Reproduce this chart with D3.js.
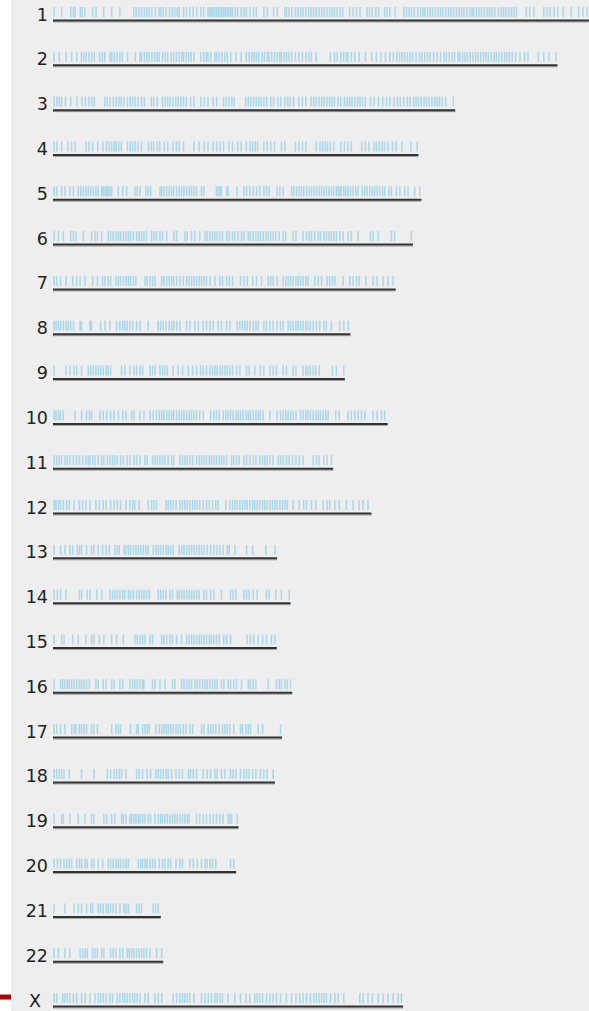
<!DOCTYPE html>
<html>
<head>
<meta charset="utf-8">
<script src="https://cdn.jsdelivr.net/npm/d3@7"></script>
<style>
  html, body { margin: 0; padding: 0; background: #ffffff; }
  svg { display: block; }
</style>
</head>
<body>
<svg id="chart" width="589" height="1011"></svg>
<script>
// Chromosome names and drawn extent (Mb)
const chromosomes = ["1","2","3","4","5","6","7","8","9","10","11","12","13","14","15","16","17","18","19","20","21","22","X"];
const lengthsMb = [249, 233, 185.8, 168.8, 170.2, 166.3, 158.3, 137.4, 134.8, 154.6, 129.4, 147.1, 103.5, 109.7, 103.4, 110.5, 105.8, 102.5, 85.7, 84.6, 49.8, 50.9, 161.7];

// Feature positions along each chromosome (Mb)
const chr1 = [0.5,4,8.2,9.4,10.2,12.6,13.4,14.7,18.3,19.9,23.4,27.1,30.9,37.3,38.4,39.6,40.9,42.2,43.3,44.4,45.7,47.3,49,49.8,50.9,52.2,53.8,55.1,56.2,57.4,58.3,60.3,61.6,63.2,64.8,66.4,68.3,69.6,71.6,72.4,73.2,74,74.8,75.6,76.4,77.2,78,78.8,79.6,80.5,81.3,82.1,82.9,84.2,85.3,86.9,88.2,89.3,91,92.6,93.9,97.4,99,101.9,103.6,107.1,107.9,109,110.3,112,113.2,114.4,115.5,116.8,118.1,119.2,120.4,121.6,122.9,124.1,125.2,126.5,127.8,128.9,130,131.3,132.6,133.8,137,138.6,140.2,141.8,145.1,146.2,147.5,149.1,150.4,153.2,154.3,155.6,158,162,163.3,164.5,165.6,166.9,168.5,169.8,170.9,171.7,173,174.2,175.3,176.6,177.9,179,180.1,181.4,182.7,183.8,185,186.3,187.6,188.7,189.8,191.1,192.4,193.5,194.3,195.6,196.8,197.9,199.2,200.5,201.6,202.7,204,205.7,207,208.1,209.2,210.5,211.8,212.9,214.1,218.6,220.2,222.1,226.7,228.3,229.6,231.5,233.1,235.6,239.3,242.8,244.8,246.7];
const chr2 = [0.5,2.9,6.1,8.6,11,13.1,14.2,15.3,16.6,17.9,19.1,21.5,22.8,23.9,26.3,27.1,28.3,29.6,30.9,32,34.4,38,40.1,40.9,42.2,43.3,44.4,45.7,47,48.1,49,50.6,51.9,53,54.6,55.7,57,58.3,59.5,60.3,61.6,62.7,63.8,65.1,68.3,69.6,70.8,71.6,72.9,74.8,75.6,76.7,78,79.3,80.5,82.1,84.5,86.9,89.3,90.6,91.8,92.9,93.9,95,96.6,97.7,99,99.8,101,102.3,103.6,104.7,105.5,106.8,107.9,109,110.3,112,113.6,115.2,116.8,118.1,119.2,121.6,128.1,130,131.3,132.9,134.2,135.4,136.2,137.8,139.4,141.4,144.3,147.2,149.4,151.5,153.6,155.6,157.2,158.8,160.1,161.2,162.4,163.7,164.9,166.1,167.7,169.3,170.4,171.7,173,174.2,175.8,177.4,179,180.6,181.7,183,184.3,185.5,187.1,187.9,189.2,190.3,191.4,192.7,194,195.2,196.3,197.6,198.9,200,201.1,202.4,203.7,204.8,206,207.3,208.6,209.7,210.8,212.1,213.7,215.7,217.8,219.4,224.2,226.7,229.1,232.3];
const chr3 = [0.5,1.8,2.9,4,5.7,8.2,11,13.4,15,16.6,17.9,19.1,23.9,25,26.3,27.9,29.2,30.4,31.5,32.8,34.4,35.7,36.8,37.9,39.3,40.9,42.2,45.4,46.5,48.1,50.6,51.9,53,54.1,55.4,56.7,57.8,59,60.3,61.6,63.5,65.1,68.3,69.9,71.6,74,75.6,78.8,80,81.3,82.6,83.7,89,90.2,91.3,92.6,93.9,95,96.1,97.4,98.7,100.6,101.9,103.9,105.2,107.1,108.4,109.5,111.1,113.6,115.2,116.8,119.2,120.4,121.6,122.9,124.1,125.2,126.5,127.8,128.9,130,131.7,132.9,134.6,135.9,137,138.1,139.4,140.7,141.8,143,144.3,146.7,148.3,150.4,152.3,154,155.6,157.5,159.1,160.4,162,163.7,164.9,166.6,167.7,168.8,170.1,171.4,172.5,173.7,175,176.3,177.4,178.5,179.8,181.4,184.9];
const chr4 = [0.5,1.8,4,6.9,8.6,10.2,15.3,16.6,18.3,20.7,23.1,24.7,26,27.1,28.3,29.2,30.4,31.5,34.4,35.7,36.8,37.9,39.3,40.9,44.1,45.4,46.5,48.1,49.3,51.4,53,55.4,57,58.3,60.3,65.1,67.5,69.9,71.6,74,75.6,77.2,78.8,81.3,82.9,85.3,86.9,89.3,91,92.2,93.4,94.5,97.4,99,100.6,102.3,105.5,107.1,112,113.6,115.2,116.8,121.6,123.3,124.5,125.7,126.8,128.1,129.7,132.9,134.6,136.2,137.8,142.6,144.3,145.9,148.3,149.4,150.7,152,153.1,154.7,156.8,158.5,161.2,165.3,168.2];
const chr5 = [0.5,1.7,4,5.5,7.8,9.4,11.7,12.8,14,15.2,16.3,17.4,18.6,19.8,20.9,22.5,23.2,24,24.8,25.5,26.3,27.1,30.2,32.2,34,37.8,38.9,40.2,42.9,44,45.1,49.4,50.2,51.2,52.5,53.7,54.8,55.8,57.1,58.3,59.4,60.5,61.7,62.9,64,65.1,66.3,68.6,69.7,75.5,76.3,77.1,77.8,80.2,80.9,85,88.2,89.4,90.9,92.5,94,95.5,97.4,98.6,99.8,103.5,104.8,106.3,110.2,111.2,112.5,113.7,114.8,115.8,117.1,118.3,119.4,120.5,121.7,122.9,124,125.1,126.3,127.5,128.6,129.7,130.9,131.7,132.5,133.2,134.3,135.2,136.3,137.4,138.6,139.8,140.9,142.9,144,145.1,146.3,147.5,148.6,149.7,150.9,152.2,153.2,155.2,156.3,158.6,160.2,162.5,164,167.1,169.4];
const chr6 = [0.5,2.5,4.8,8.2,9.4,10.6,14,17.8,19.4,20.5,22.5,25.5,26.6,27.8,29.1,30.2,31.2,32.5,33.7,34.8,35.8,37.1,38.6,39.8,40.9,42,43.2,45.5,46.6,47.8,49.4,50.6,52.5,55.8,57.1,60.9,62,64,65.5,67.8,70.2,71.2,72.5,73.7,74.8,75.8,77.1,78.3,80.2,81.4,82.9,84,85.5,87.1,88.2,90.2,91.2,92.5,93.7,94.8,95.8,97.1,98.3,99.4,100.5,101.7,102.9,104.5,106.3,107.5,110.9,112.2,115.5,117.1,118.3,119.4,120.9,122.5,123.5,125.1,126.3,127.5,128.6,129.7,130.9,132.5,134,136.3,137.8,140.9,146.6,147.8,150.2,156.3,157.8,165.5];
const chr7 = [0.5,1.7,3.5,6,9.1,10.9,12.5,14.8,18.3,20.5,22.9,24,25.5,26.6,29.1,30.2,31.2,32.5,33.7,34.8,35.8,37.1,38.3,42.5,43.5,44.8,46,47.1,50.2,51.2,52.5,53.7,54.8,55.8,57.1,58.6,60.2,61.7,62.9,64,65.1,66.3,67.5,68.6,69.7,70.9,72.5,74.8,77.1,78.3,80.2,81.4,82.9,86.6,88.2,89.7,92.2,94,96.3,99.4,100.5,101.7,103.5,106.3,107.5,108.6,109.7,110.9,112.2,113.2,114.3,115.5,116.8,117.8,120.9,122.5,124,126.6,127.8,129.1,130.2,134,137.1,138.6,140.2,141.4,144.5,147.8,149.7,152.5,154.8,157.1];
const chr8 = [0.5,1.4,2.5,3.5,4.8,6,7.1,8.2,9.4,12.5,13.2,17.1,17.8,22,24,26.3,29.4,30.9,32.2,33.2,34.3,35.5,36.8,38.6,40.2,44,48.6,49.7,50.9,52.2,53.7,54.8,55.8,57.1,58.6,61.7,63.2,65.5,67.1,69.4,70.9,72.5,74,76.3,77.8,80.2,81.7,85.1,86.3,87.5,88.6,89.7,90.9,92.5,93.7,94.8,97.4,98.6,100.2,101.7,103.5,105.1,106.3,108.6,109.7,110.9,112.2,113.2,114.3,115.5,116.8,117.8,118.9,120.2,121.7,123.2,125.1,126.3,128.6,132.5,134.3,136.3];
const chr9 = [0.5,6,7.8,9.7,10.9,13.2,16.3,17.4,18.6,19.8,20.9,22,23.2,24.5,25.5,26.6,31.7,33.2,35.5,37.4,38.6,40.2,41.4,44.8,46,47.1,49.4,50.6,51.7,52.8,55.5,57.8,59.8,62.5,64.5,66.3,68.2,69.4,70.9,72.5,73.7,74.8,75.8,77.1,78.3,79.4,80.5,81.7,82.9,84.8,86.3,89.4,90.6,93.2,95.8,97.4,100.2,101.7,103.2,106.3,107.8,110.9,112.2,115.5,116.8,117.8,118.9,120.2,121.4,122.9,129.1,130.9,134.3];
const chr10 = [0.5,1.4,2.5,3.5,4.8,10.2,13.2,15.5,16.8,17.8,21.7,23.2,24.8,26.6,28.2,30.2,32.2,33.7,36.3,37.4,40.2,42,44.8,46.3,47.8,49.1,50.2,51.2,52.5,53.7,54.8,55.8,57.1,58.3,59.4,60.5,61.7,62.9,64,65.1,66.3,67.8,69.4,72.8,74.3,75.5,76.8,78.6,79.8,80.9,82,83.2,84.5,85.5,86.6,87.8,89.1,90.2,91.2,92.5,93.7,94.8,95.8,97.1,100.2,103.5,105.1,106.3,107.5,108.6,109.7,110.9,112.2,114.3,115.5,116.8,117.8,118.9,120.2,121.4,122.5,123.5,124.8,126,127.1,130.6,132.2,136.3,137.8,139.4,140.9,142.5,144,147.8,149.7,151.7,153.2];
const chr11 = [0.5,1.7,2.9,4,5.5,6.6,7.8,9.4,10.9,12.2,13.7,15.2,16.3,17.1,18.3,19.4,20.9,22.5,23.5,25.1,26.3,27.5,28.6,29.7,31.2,32.5,34.3,35.5,37.4,38.6,40.2,42.5,43.5,46,47.1,48.2,49.4,50.6,51.7,53.2,54.8,55.8,58.6,59.8,60.9,62,63.2,64.5,66.3,67.5,68.6,69.7,70.9,72.2,73.2,74.3,75.5,76.8,77.8,78.9,80.2,82.5,83.5,84.8,86,88.2,89.4,90.9,92.5,93.7,95.5,96.8,97.8,98.9,100.2,101.7,104,105.1,106.3,107.8,109.1,110.6,112.2,113.7,115.5,120.2,121.7,122.9,125.1,126.6,128.6];
const chr12 = [0.5,1.4,2.5,3.5,4.8,6.3,7.5,9.7,12.2,13.7,15.2,17.1,19.8,21.4,23.2,24.5,26.6,28.2,29.7,31.2,33.7,35.5,36.8,37.8,39.8,44,45.5,46.6,47.8,52.2,53.2,54.3,55.5,56.8,58.6,59.8,60.9,62,63.2,64.5,65.5,66.6,67.8,69.4,70.9,72.2,73.7,75.2,76.3,79.8,81.7,82.9,84,85.1,86.3,87.5,88.6,89.7,90.9,92.2,93.2,94.3,95.5,96.8,97.8,98.9,100.2,101.4,102.5,103.5,104.8,106,107.1,108.2,110.9,113.7,115.8,117.1,119.4,121.4,124.8,126.6,127.8,130.2,132.2,135.5,138.6,141.4,143.2,145.5];
const chr13 = [0.5,3.5,5.5,7.8,9.1,11.2,12.2,13.2,15.5,17.8,18.9,20.9,22.9,24.5,26,28.6,29.7,30.6,32.8,33.7,34.8,35.8,37.1,38.3,39.4,40.5,41.7,42.9,44,46.3,47.5,48.6,49.7,50.9,52.2,53.2,54.3,55.5,58.3,59.4,60.5,61.7,62.9,64,65.1,66.3,67.5,68.6,69.7,71.2,72.8,74.3,75.8,77.1,78.6,80.5,81.4,84,89.4,92.2,98.3,102.5];
const chr14 = [0.5,2,3.5,6,12.2,13.2,15.8,17.1,20.2,22.5,26.3,27.5,28.6,29.7,30.9,32.2,33.2,34.8,35.8,37.1,38.6,39.8,40.9,42,43.2,44.5,48.6,49.7,50.9,52.2,54,55.2,57.4,58.3,59.4,60.5,61.7,62.9,64,65.1,66.3,67.5,69.7,70.9,72.8,74.3,77.8,82,83.2,84.5,88.2,89.4,90.6,92.5,94.3,98.6,99.8,102.9,105.5,109.1];
const chr15 = [0.5,4,5.1,9.1,11.7,15.2,17.8,18.9,21.4,23.5,27.1,29.4,32.5,37.8,38.9,40.2,41.4,42.5,44.8,46,50.2,51.2,52.5,54,55.2,57.1,59.4,61.7,62.9,64,65.1,66.3,67.5,68.6,69.7,70.9,72.2,73.2,74.3,75.5,76.8,78.9,80.2,82,89.7,91.2,92.8,94.8,96.8,98.6,100.9,102.5];
const chr16 = [0.5,3.5,4.5,5.5,6.6,7.5,8.6,9.7,10.9,12.2,13.2,14.3,15.5,16.8,19.8,20.9,23.2,24.5,27.1,28.2,30.9,32.2,35.5,36.8,37.8,38.9,40.2,41.4,42,46,47.1,49.4,51.7,55.2,56.3,59.4,60.5,61.7,62.9,64,65.5,66.6,67.8,69.1,70.2,71.2,72.5,73.7,74.8,75.8,77.8,78.9,80.9,82,83.5,84.8,87.1,90.2,91.2,92.5,93.7,99.4,103.2,104.5,105.5,107.1,108.2,109.7];
const chr17 = [0.5,1.7,3.5,5.5,8.6,9.7,10.6,12.2,13.2,14.3,15.5,17.8,18.9,20.5,27.1,29.1,30.2,31.2,35.8,38.6,39.4,41.4,42.5,43.5,44.5,47.5,49.1,50.2,51.2,52.2,53.2,54.3,55.5,56.8,57.8,58.9,60.2,61.4,63.2,64.5,68.6,69.7,71.7,72.8,74,75.2,76.8,78.3,79.4,80.5,81.7,83.5,86.6,87.5,89.1,90.2,91.2,94.8,96.8,105.1];
const chr18 = [0.5,1.7,2.9,4,5.1,7.5,13.2,18.9,25.1,26.6,28.2,29.4,30.6,31.7,33.7,38.6,39.8,41.4,43.5,45.1,47.5,48.6,49.7,50.9,52.2,53.2,54.8,56.8,58.3,59.8,62.5,63.5,64.8,66.3,69.4,71.2,72.8,74.8,75.8,77.8,79.4,82,83.2,84.5,86.6,88.2,89.4,90.6,92.2,93.7,95.8,97.4,98.9,101.7];
const chr19 = [0.5,4,4.8,7.8,11.7,14.8,17.8,18.9,23.5,24.8,27.1,28.6,31.7,32.5,33.7,35.5,36.3,37.4,38.3,39.4,40.2,41.4,42.5,44,45.1,47.1,48.6,49.7,50.6,51.7,52.8,54,55.2,56.3,57.4,58.6,59.8,60.9,62,62.9,66.3,67.8,69.4,70.9,72.5,74,75.5,77.1,78.6,80.9,81.7,82.5,85.1];
const chr20 = [0.5,2,3.5,5.1,6.3,7.5,8.6,10.9,12.2,13.2,14.8,15.8,17.8,18.9,20.9,22.9,25.5,26.6,27.8,29.1,30.2,31.2,32.5,33.7,34.8,39.4,40.5,41.4,42.5,43.5,44.8,46,47.1,49.1,50.6,51.7,53.2,54.3,56.8,58.6,59.8,63.2,64.8,66.6,68.6,70.2,71.2,72.5,73.7,75.2,82,83.5];
const chr21 = [0.5,5.5,9.7,11.7,13.2,15.5,17.4,18.3,20.9,22,23.2,24.5,25.5,26.6,27.8,29.1,30.9,32.8,33.7,34.8,38.6,39.8,40.9,46.3,47.5,48.6];
const chr22 = [0.5,2.5,5.5,7.8,12.5,13.7,14.8,15.8,18.3,19.4,20.5,22.5,23.5,26.6,27.8,29.1,30.9,32.2,34.3,35.2,36.3,37.4,38.6,39.8,40.9,42,43.2,44.8,47.8,50.2];
const chrX = [0.5,1.7,4.5,5.5,6.6,7.8,9.4,10.9,13.2,14.8,17.1,19.4,20.9,22,23.2,24.5,26.3,27.5,29.7,30.9,32.2,33.2,34.3,35.5,36.8,37.8,38.9,40.2,42.5,44,47.1,48.6,50.2,55.5,57.1,58.6,59.8,60.9,62,63.2,65.1,68.6,70.2,71.7,73.2,74.8,75.8,77.1,78.3,80.9,84,86.6,89.1,90.9,93.2,94.3,95.5,96.8,98.6,100.2,101.7,103.2,105.1,107.8,110.2,112.2,114,115.5,117.1,118.9,120.5,121.7,122.9,124,125.1,126.3,128.2,130.2,131.7,134.3,141.7,143.2,145.5,147.5,150.2,152.5,154.8,157.1,159.4,160.9];

const featureSets = [chr1, chr2, chr3, chr4, chr5, chr6, chr7, chr8, chr9, chr10, chr11, chr12, chr13, chr14, chr15, chr16, chr17, chr18, chr19, chr20, chr21, chr22, chrX];
const highlighted = "X";

const W = 589, H = 1011;
const svg = d3.select("#chart");

// panel background with a white gutter on the left
svg.append("rect").attr("x", 0).attr("y", 0).attr("width", W).attr("height", H).attr("fill", "#ffffff");
svg.append("rect").attr("x", 11).attr("y", 0).attr("width", W - 11).attr("height", H).attr("fill", "#eeeeee");

const x = d3.scaleLinear().domain([0, 249]).range([53, 53 + 249 * 2.165]);
const y = d3.scalePoint().domain(chromosomes).range([20.5, 20.5 + 22 * 44.82]);

const rows = svg.selectAll("g.chrom")
  .data(chromosomes.map((c, i) => ({ name: c, length: lengthsMb[i], features: featureSets[i] })))
  .join("g")
  .attr("class", "chrom")
  .attr("transform", d => `translate(0,${y(d.name)})`);

// marker for the highlighted chromosome
rows.filter(d => d.name === highlighted)
  .append("rect")
  .attr("x", 0).attr("y", -12).attr("width", 11).attr("height", 5)
  .attr("fill", "#b30000");

// chromosome labels (the highlighted one sits a little further left)
rows.append("text")
  .attr("x", d => d.name === highlighted ? 41 : 48)
  .attr("y", 0)
  .attr("text-anchor", "end")
  .attr("font-family", "Verdana, 'DejaVu Sans', sans-serif")
  .attr("font-size", 17.5)
  .attr("fill", "#222222")
  .text(d => d.name);

// feature ticks
rows.selectAll("rect.feature")
  .data(d => d.features)
  .join("rect")
  .attr("class", "feature")
  .attr("x", d => x(d) - 0.75)
  .attr("y", -13.5)
  .attr("width", 1.5)
  .attr("height", 10)
  .attr("fill", "#55bde4")
  .attr("fill-opacity", 0.45);

// chromosome axis line with a soft shadow underneath
rows.append("line")
  .attr("x1", x(0)).attr("x2", d => x(d.length))
  .attr("y1", 1.5).attr("y2", 1.5)
  .attr("stroke", "#a0a0a0").attr("stroke-width", 1);
rows.append("line")
  .attr("x1", x(0)).attr("x2", d => x(d.length))
  .attr("y1", 0).attr("y2", 0)
  .attr("stroke", "#333333").attr("stroke-width", 2);
</script>
</body>
</html>
